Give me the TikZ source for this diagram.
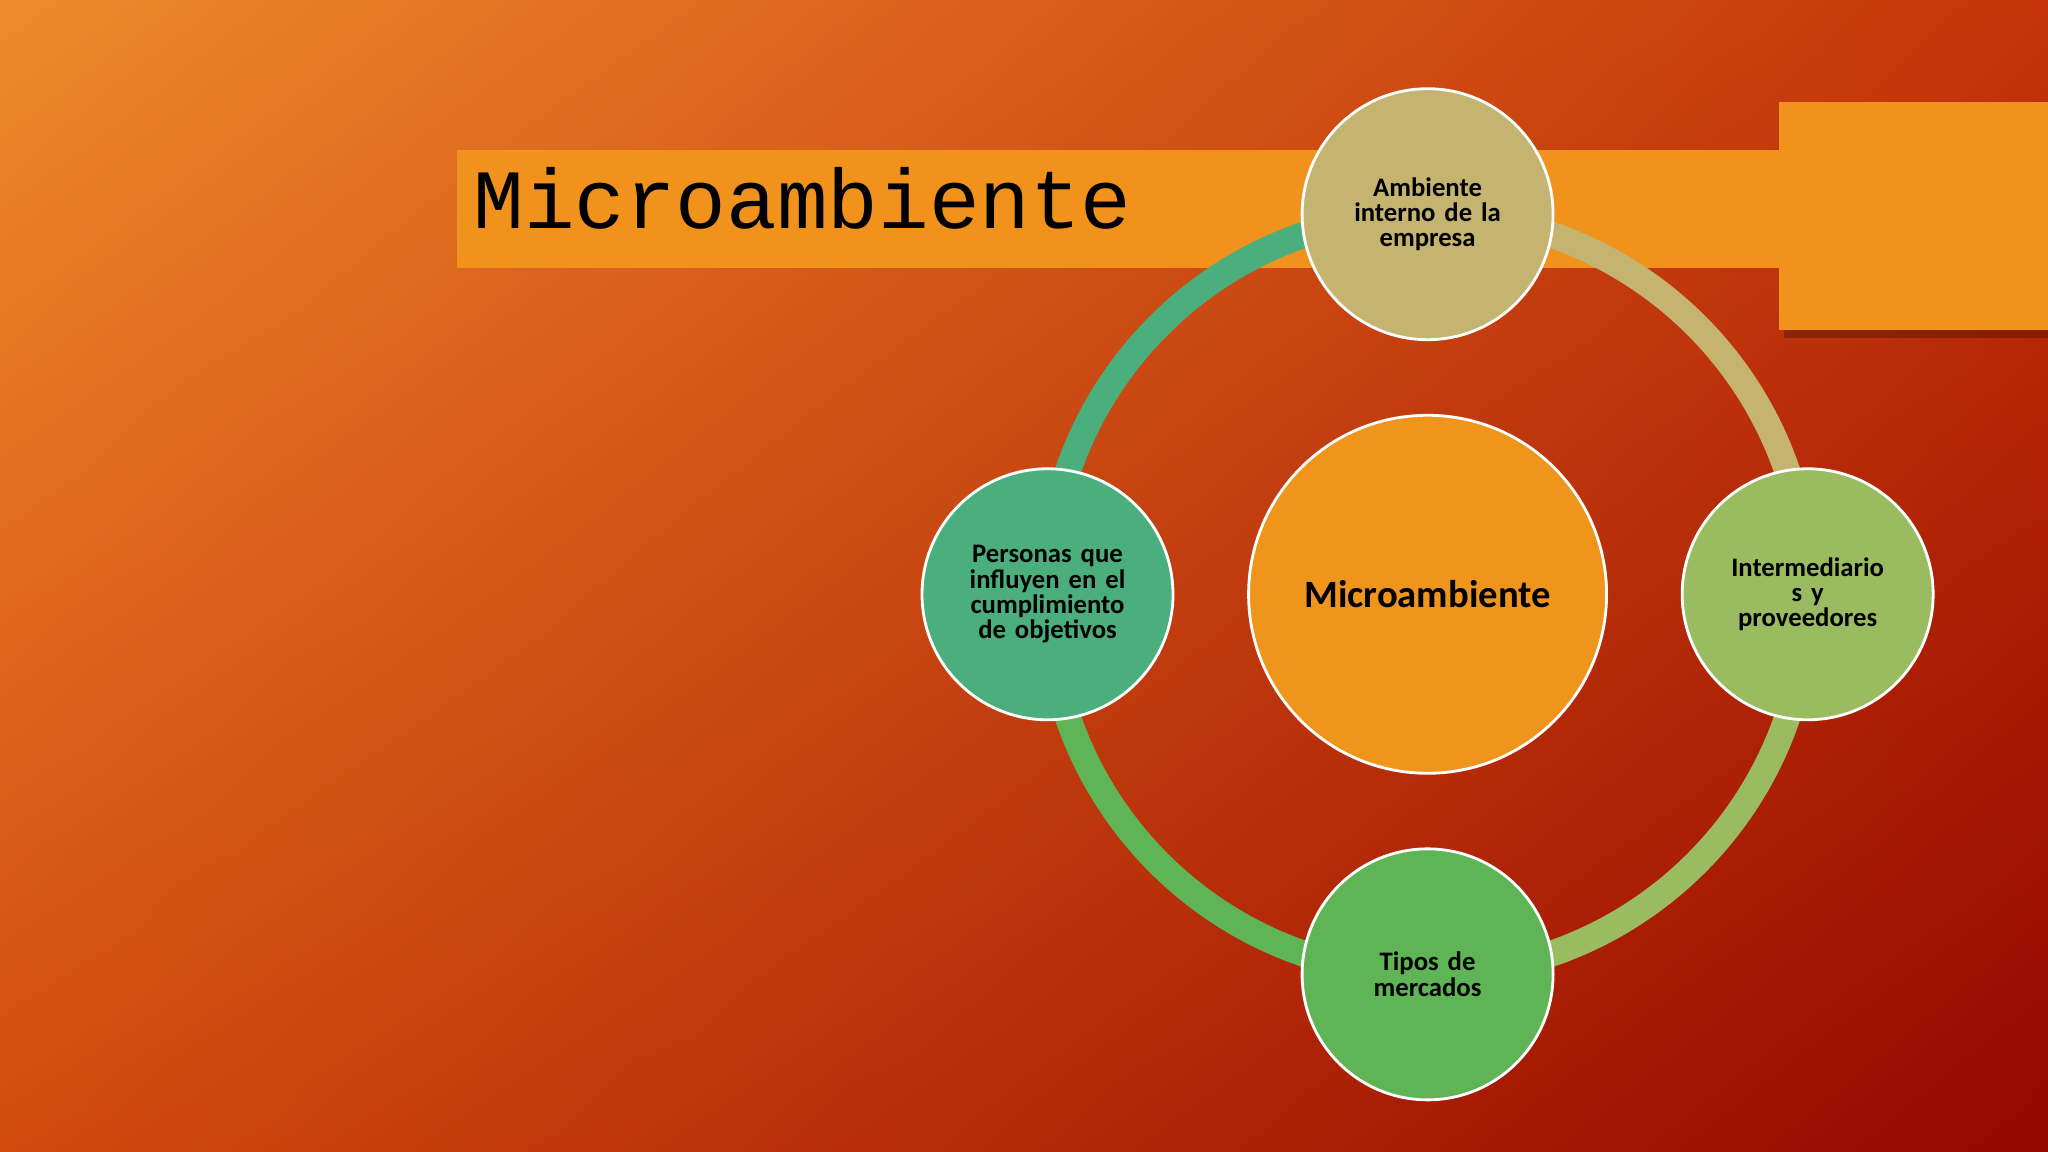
\documentclass[tikz,border=0pt]{standalone}
\usetikzlibrary{shadings}
\usepackage{fontspec}
\setmainfont{Carlito}
\newfontfamily\monof{Liberation Mono}
\definecolor{bgUL}{HTML}{EE8A2C}
\definecolor{bgUR}{HTML}{C43408}
\definecolor{bgLL}{HTML}{D24A0E}
\definecolor{bgLR}{HTML}{940600}
\definecolor{barc}{HTML}{F0921C}
\definecolor{cTop}{HTML}{C4B46F}
\definecolor{cRight}{HTML}{9ABB60}
\definecolor{cBottom}{HTML}{5FB556}
\definecolor{cLeft}{HTML}{4AAF7C}
\definecolor{cCenter}{HTML}{F0951C}
\begin{document}
\begin{tikzpicture}[x=0.01306cm,y=-0.01306cm,
  sat/.style={circle,draw=white,line width=0.8pt,minimum size=2.51cm,inner sep=0pt,align=center,font=\fontsize{7.6}{7.2}\selectfont\bfseries,text width=2.0cm},
  ring/.style={line width=0.26cm}]
\useasboundingbox (0,0) rectangle (1568,882);
\shade[upper left=bgUL,upper right=bgUR,lower left=bgLL,lower right=bgLR] (0,0) rectangle (1568,882);
\fill[black,opacity=0.25] (1366,84) rectangle (1568,259);
\fill[barc] (1362,78) rectangle (1568,253);
\fill[barc] (350,115) rectangle (1362,205);
\node[anchor=base west,inner sep=0pt,font=\monof\fontsize{24}{24}\selectfont] (title) at (362,175) {Microambiente};
\coordinate (c) at (1093,455);
\draw[ring,cLeft] ([shift={(180:291)}]c) arc[start angle=180,end angle=270,radius=291];
\draw[ring,cTop] ([shift={(270:291)}]c) arc[start angle=270,end angle=360,radius=291];
\draw[ring,cRight] ([shift={(0:291)}]c) arc[start angle=0,end angle=90,radius=291];
\draw[ring,cBottom] ([shift={(90:291)}]c) arc[start angle=90,end angle=180,radius=291];
\node[circle,draw=white,line width=0.8pt,fill=cCenter,minimum size=3.58cm,font=\fontsize{11}{12}\selectfont\bfseries] (center) at (c) {Microambiente};
\node[sat,fill=cTop] (top) at (1093,164) {Ambiente\\interno de la\\empresa};
\node[sat,fill=cRight] (right) at (1384,455) {Intermediario\\s y\\proveedores};
\node[sat,fill=cBottom] (bottom) at (1093,746) {Tipos de\\mercados};
\node[sat,fill=cLeft] (left) at (802,455) {Personas que\\influyen en el\\cumplimiento\\de objetivos};
\end{tikzpicture}
\end{document}
